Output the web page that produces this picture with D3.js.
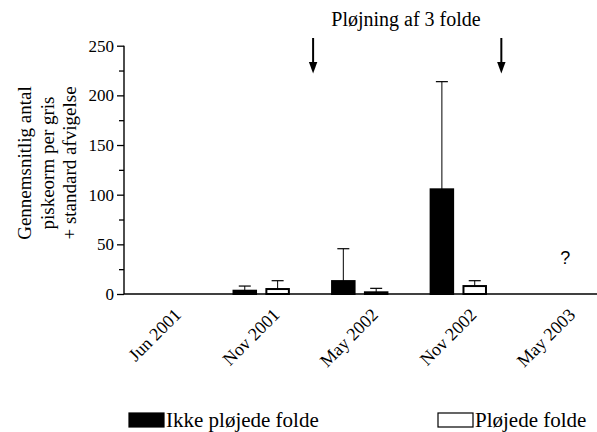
<!DOCTYPE html>
<html>
<head>
<meta charset="utf-8">
<script src="https://cdn.jsdelivr.net/npm/d3@7"></script>
<style>
  body { margin: 0; background: #fff; }
  svg text { fill: #000; }
</style>
</head>
<body>
<script>
// Mean whipworm counts per pig, ploughed vs not ploughed paddocks
var dates = ["Jun 2001", "Nov 2001", "May 2002", "Nov 2002", "May 2003"];
var ikkePlojede = [0, 3.3, 13, 105.4, null];     // black bars
var ikkePlojedeSd = [0, 4.7, 32.6, 108.4, null];
var plojede = [0, 5, 1.7, 8, null];               // white bars
var plojedeSd = [0, 8.4, 4, 5.4, null];
var tom = [0, 0, 0, 0, null];                     // empty third slot in each group
var yTicks = [0, 50, 100, 150, 200, 250];
var yMinor = [25, 75, 125, 175, 225];
var legendLabels = ["Ikke pløjede folde", "Pløjede folde"];
var titleText = "Pløjning af 3 folde";
var yTitle = ["Gennemsnitlig antal", "piskeorm per gris", "+ standard afvigelse"];

var serif = "'Liberation Serif','Times New Roman',serif";
var width = 597, height = 432;
var svg = d3.select("body").append("svg")
  .attr("width", width).attr("height", height)
  .attr("font-family", serif);

var y = d3.scaleLinear().domain([0, 250]).range([294, 45.7]);

var x0 = d3.scaleBand().domain(dates).range([129.8, 129.8 + 5 * 98.55]);
var keys = ["ikke", "plojede", "tom"];
var x1 = d3.scaleBand().domain(keys).range([0, x0.bandwidth()])
  .paddingInner(0.315).paddingOuter(0.1575);

// build rows for the bars
var rows = [];
dates.forEach(function(d, i){
  rows.push({date: d, key: "ikke", v: ikkePlojede[i], sd: ikkePlojedeSd[i]});
  rows.push({date: d, key: "plojede", v: plojede[i], sd: plojedeSd[i]});
  rows.push({date: d, key: "tom", v: tom[i], sd: 0});
});
rows = rows.filter(function(r){ return r.v != null; });

// x axis line
svg.append("line")
  .attr("x1", 124).attr("x2", 597).attr("y1", y(0)).attr("y2", y(0))
  .attr("stroke", "#000").attr("stroke-width", 1.3);

// error bars first (behind bars)
var eb = rows.filter(function(r){ return r.sd > 0; });
var capW = 12;
function cx(r){ return x0(r.date) + x1(r.key) + x1.bandwidth()/2; }
svg.selectAll(".err").data(eb).enter().append("line")
  .attr("x1", cx).attr("x2", cx)
  .attr("y1", function(r){ return y(r.v); })
  .attr("y2", function(r){ return y(r.v + r.sd); })
  .attr("stroke", "#000").attr("stroke-width", 1);
svg.selectAll(".cap").data(eb).enter().append("line")
  .attr("x1", function(r){ return cx(r) - capW/2; })
  .attr("x2", function(r){ return cx(r) + capW/2; })
  .attr("y1", function(r){ return y(r.v + r.sd); })
  .attr("y2", function(r){ return y(r.v + r.sd); })
  .attr("stroke", "#000").attr("stroke-width", 1.2);

// bars
svg.selectAll(".bar").data(rows).enter().append("rect")
  .attr("x", function(r){ return x0(r.date) + x1(r.key); })
  .attr("y", function(r){ return y(r.v); })
  .attr("width", x1.bandwidth())
  .attr("height", function(r){ return y(0) - y(r.v); })
  .attr("fill", function(r){ return r.key == "ikke" ? "#000" : "#fff"; })
  .attr("stroke", "#000").attr("stroke-width", 2);

// y axis
var yAxis = svg.append("g").attr("transform", "translate(124,0)")
  .call(d3.axisLeft(y).tickValues(yTicks).tickSize(7).tickPadding(3));
yAxis.attr("font-family", serif).attr("font-size", 17);
yAxis.select(".domain").attr("stroke-width", 1.4).attr("d", "M0," + y(250) + "V" + y(0));
yAxis.selectAll(".tick line").attr("stroke-width", 1.3);
svg.append("g").attr("transform", "translate(124,0)")
  .call(d3.axisLeft(y).tickValues(yMinor).tickSize(5).tickFormat(""))
  .call(function(g){ g.select(".domain").remove(); })
  .selectAll(".tick line").attr("stroke-width", 1.3);

// x labels, rotated
svg.selectAll(".xl").data(dates).enter().append("text")
  .attr("transform", function(d){
    return "translate(" + (x0(d) + x0.bandwidth()/2 + 3) + "," + (y(0) + 22) + ") rotate(-45)";
  })
  .attr("text-anchor", "end")
  .attr("font-size", 18)
  .text(function(d){ return d; });

// y title
svg.append("text")
  .attr("transform", "translate(31,163) rotate(-90)")
  .attr("text-anchor", "middle")
  .attr("font-size", 19)
  .selectAll("tspan").data(yTitle).enter().append("tspan")
  .attr("x", 0).attr("dy", function(d, i){ return i == 0 ? 0 : 22.5; })
  .text(function(d){ return d; });

// title and arrows
svg.append("text").attr("x", 406).attr("y", 26)
  .attr("text-anchor", "middle").attr("font-size", 20)
  .text(titleText);

var arrows = [{date: "Nov 2001", f: 0.86}, {date: "Nov 2002", f: 0.77}];
arrows.forEach(function(a){
  var ax = x0(a.date) + x0.bandwidth() * a.f;
  svg.append("line").attr("x1", ax).attr("x2", ax).attr("y1", 38).attr("y2", 65)
    .attr("stroke", "#000").attr("stroke-width", 2);
  svg.append("path")
    .attr("d", "M" + (ax - 4.2) + ",62L" + (ax + 4.2) + ",62L" + ax + ",73.5Z")
    .attr("fill", "#000");
});

// question mark for May 2003
svg.append("text")
  .attr("x", x0("May 2003") + x0.bandwidth()/2 - 8)
  .attr("y", y(30))
  .attr("text-anchor", "middle")
  .attr("font-family", "'Liberation Sans', Arial, sans-serif")
  .attr("font-size", 18)
  .text("?");

// legend
var legendX = [129, 438];
legendLabels.forEach(function(l, i){
  svg.append("rect").attr("x", legendX[i]).attr("y", 413).attr("width", 35).attr("height", 14)
    .attr("fill", i == 0 ? "#000" : "#fff").attr("stroke", "#000").attr("stroke-width", 1.2);
  svg.append("text").attr("x", legendX[i] + 37).attr("y", 427)
    .attr("font-size", 21).text(l);
});
</script>
</body>
</html>
